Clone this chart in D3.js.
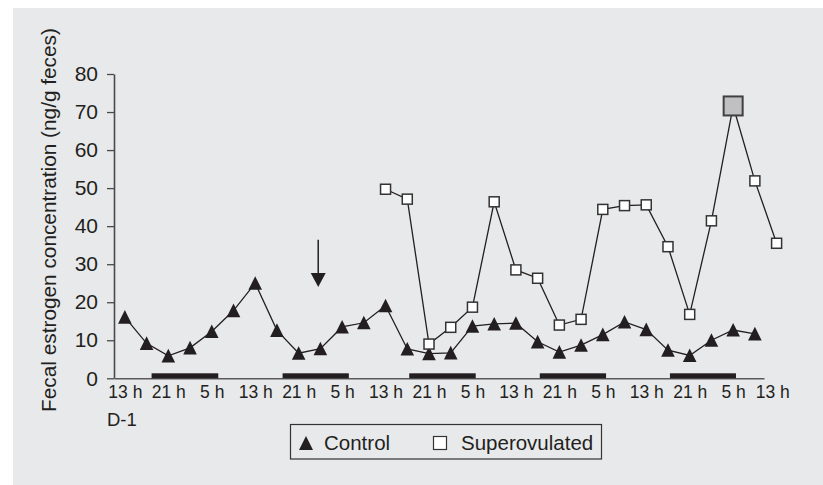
<!DOCTYPE html>
<html>
<head>
<meta charset="utf-8">
<script src="https://cdn.jsdelivr.net/npm/d3@7"></script>
<style>
  html, body { margin: 0; padding: 0; background: #fff; }
  svg { display: block; font-family: "Liberation Sans", Arial, Helvetica, sans-serif; }
</style>
</head>
<body>
<div id="chart"></div>
<script>
// sampling steps are 4 h apart, step 0 = 13 h on D-1
var control = [16.1, 9.2, 5.9, 8.0, 12.3, 17.8, 25.0, 12.6, 6.6, 7.8,
               13.5, 14.6, 19.1, 7.7, 6.5, 6.7, 13.7, 14.3, 14.5, 9.6,
               6.9, 8.7, 11.5, 14.8, 12.8, 7.4, 6.0, 10.0, 12.7, 11.7];
var superStart = 12;
var superovulated = [49.7, 47.1, 9.0, 13.4, 18.7, 46.4, 28.5, 26.3, 14.0, 15.5,
                     44.4, 45.4, 45.6, 34.6, 16.8, 41.4, 71.6, 51.9, 35.5];
var superPeak = 28;   // step of the highlighted (grey) sample

var xTickPos    = [0, 2, 4, 6, 8, 10, 12, 14, 16, 18, 20, 22, 24, 26, 28, 29.8];
var xTickLabels = ["13 h", "21 h", "5 h", "13 h", "21 h", "5 h", "13 h", "21 h", "5 h",
                   "13 h", "21 h", "5 h", "13 h", "21 h", "5 h", "13 h"];
var yTicks = [0, 10, 20, 30, 40, 50, 60, 70, 80];

// dark phases (in steps)
var darkStart = [1.23, 7.26, 13.09, 19.1, 25.09];
var darkEnd   = [4.30, 10.31, 16.15, 22.15, 28.13];

// arrow: step and value range
var arrowStep = 8.9, arrowFrom = 36.4, arrowTo = 24;

var W = 823, H = 485,
    ink = "#231f20",
    bg = "#e8e9eb";

var svg = d3.select("#chart").append("svg")
    .attr("width", W).attr("height", H);

svg.append("rect")
    .attr("x", 13).attr("y", 8)
    .attr("width", W - 13).attr("height", H - 8)
    .attr("fill", bg);

var x = d3.scaleLinear().domain([-0.5, 29.42]).range([114, 764]);
var y = d3.scaleLinear().domain([0, 80]).range([378.3, 74]);

var g = svg.append("g");

// y axis
var yAxis = d3.axisLeft(y).tickValues(yTicks).tickSize(7).tickSizeOuter(0).tickPadding(9);
var yg = g.append("g").attr("transform", "translate(" + x.range()[0] + ",0)").call(yAxis);
yg.select(".domain").attr("stroke", "#4a4a4a").attr("stroke-width", 1.6);
yg.selectAll(".tick line").attr("stroke", "#4a4a4a").attr("stroke-width", 1.3);
yg.selectAll(".tick text")
    .attr("fill", ink)
    .attr("font-size", 21)
    .attr("font-family", "'Liberation Sans', Arial, sans-serif");

// x axis
var xAxis = d3.axisBottom(x).tickValues(xTickPos).tickSize(0).tickSizeOuter(0).tickPadding(0)
    .tickFormat(function(d, i) { return xTickLabels[i]; });
var xg = g.append("g").attr("transform", "translate(0," + y(0) + ")").call(xAxis);
xg.select(".domain").attr("stroke", "#5a5a5a").attr("stroke-width", 1.6);
xg.selectAll(".tick text")
    .attr("fill", ink)
    .attr("font-size", 17.5)
    .attr("font-family", "'Liberation Sans', Arial, sans-serif")
    .attr("y", 20).attr("dy", 0);

g.append("text")
    .attr("x", 107).attr("y", 426)
    .attr("fill", ink).attr("font-size", 18.5)
    .text("D-1");

// dark phase bars on the axis
g.selectAll("rect.dark").data(darkStart)
  .enter().append("rect")
    .attr("class", "dark")
    .attr("x", function(d) { return x(d); })
    .attr("width", function(d, i) { return x(darkEnd[i]) - x(d); })
    .attr("y", y(0) - 5)
    .attr("height", 5)
    .attr("fill", ink);

// y title
svg.append("text")
    .attr("transform", "translate(55.5,220) rotate(-90)")
    .attr("text-anchor", "middle")
    .attr("fill", ink)
    .attr("font-size", 20.8)
    .text("Fecal estrogen concentration (ng/g feces)");

// arrow
g.append("line")
    .attr("x1", x(arrowStep)).attr("x2", x(arrowStep))
    .attr("y1", y(arrowFrom)).attr("y2", y(arrowTo) - 12)
    .attr("stroke", ink).attr("stroke-width", 1.5);
g.append("path")
    .attr("d", "M" + (x(arrowStep) - 7.5) + "," + (y(arrowTo) - 14) +
               "L" + (x(arrowStep) + 7.5) + "," + (y(arrowTo) - 14) +
               "L" + x(arrowStep) + "," + y(arrowTo) + "Z")
    .attr("fill", ink);

var line = d3.line()
    .x(function(d) { return x(d.step); })
    .y(function(d) { return y(d.value); });

var ctrl = control.map(function(v, i) { return {step: i, value: v}; });
var sup = superovulated.map(function(v, i) { return {step: superStart + i, value: v}; });

g.append("path").datum(ctrl)
    .attr("d", line).attr("fill", "none")
    .attr("stroke", ink).attr("stroke-width", 1.3);
g.append("path").datum(sup)
    .attr("d", line).attr("fill", "none")
    .attr("stroke", ink).attr("stroke-width", 1.3);

var tri = "M0,-7L6.8,6.6L-6.8,6.6Z";

g.selectAll("path.ctrl").data(ctrl)
  .enter().append("path")
    .attr("class", "ctrl")
    .attr("d", tri)
    .attr("transform", function(d) { return "translate(" + x(d.step) + "," + y(d.value) + ")"; })
    .attr("fill", ink);

g.selectAll("rect.sup").data(sup)
  .enter().append("rect")
    .attr("class", "sup")
    .each(function(d) {
      var big = d.step === superPeak, s = big ? 19 : 10;
      d3.select(this)
        .attr("x", x(d.step) - s / 2).attr("y", y(d.value) - s / 2)
        .attr("width", s).attr("height", s)
        .attr("fill", big ? "#c0c0c2" : "#fff")
        .attr("stroke", big ? "#404040" : "#333")
        .attr("stroke-width", big ? 2 : 1.5);
    });

// legend
var lg = svg.append("g");
lg.append("rect")
    .attr("x", 290.5).attr("y", 424.5).attr("width", 311).attr("height", 34.5)
    .attr("fill", "none").attr("stroke", "#333").attr("stroke-width", 1.2);
lg.append("path")
    .attr("d", "M306,436L313,450L299,450Z")
    .attr("fill", ink);
lg.append("text").attr("x", 324).attr("y", 450)
    .attr("fill", ink).attr("font-size", 20.5).text("Control");
lg.append("rect")
    .attr("x", 433.5).attr("y", 436.5).attr("width", 13).attr("height", 13)
    .attr("fill", "#fff").attr("stroke", "#333").attr("stroke-width", 1.2);
lg.append("text").attr("x", 461).attr("y", 450)
    .attr("fill", ink).attr("font-size", 20.5).text("Superovulated");
</script>
</body>
</html>
